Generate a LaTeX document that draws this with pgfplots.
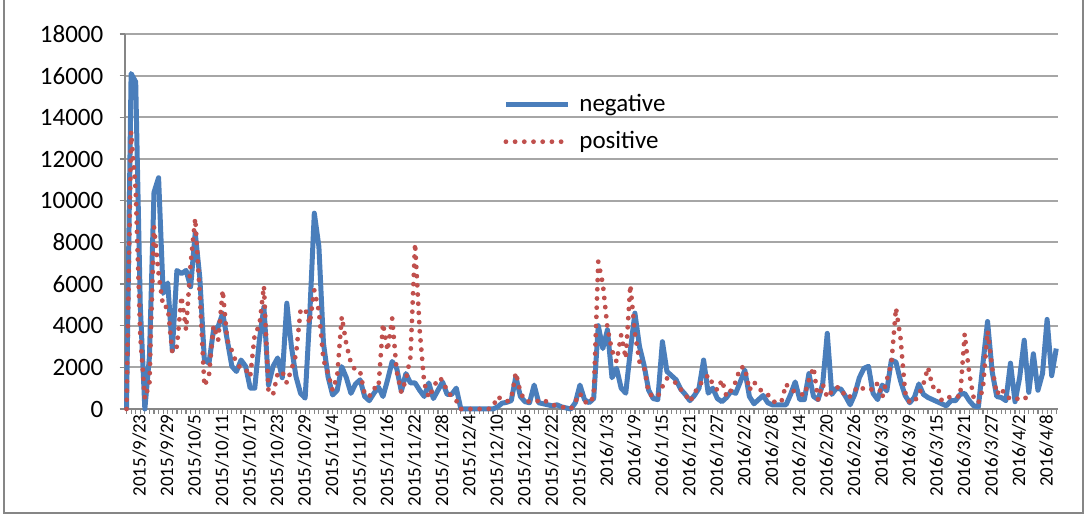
\documentclass[border=0pt]{standalone}
\usepackage{fontspec}
\setmainfont{Carlito}
\usepackage{pgfplots}
\pgfplotsset{compat=1.18}
\definecolor{negc}{RGB}{74,126,187}
\definecolor{posc}{RGB}{192,80,77}
\definecolor{gridc}{RGB}{166,166,166}
\definecolor{axc}{RGB}{134,134,134}
\begin{document}
\begin{tikzpicture}
\path[use as bounding box] (-62.35pt,-54pt) rectangle (482.15pt,204.5pt);
\draw[axc, line width=0.7pt] (-60.35pt,204.5pt) -- (-60.35pt,-52pt) -- (479.15pt,-52pt) -- (479.15pt,204.5pt);
\begin{axis}[
  at={(0,0)}, anchor=south west, scale only axis,
  width=466.7pt, height=187.5pt,
  xmin=-0.4, xmax=203.4, ymin=0, ymax=18000,
  clip=false,
  axis x line*=bottom, axis y line*=left,
  axis line style={axc, line width=1pt},
  ytick={0,2000,...,18000},
  scaled y ticks=false,
  xtick={0,6,...,198},
  xticklabels={2015/9/23,2015/9/29,2015/10/5,2015/10/11,2015/10/17,2015/10/23,2015/10/29,2015/11/4,2015/11/10,2015/11/16,2015/11/22,2015/11/28,2015/12/4,2015/12/10,2015/12/16,2015/12/22,2015/12/28,2016/1/3,2016/1/9,2016/1/15,2016/1/21,2016/1/27,2016/2/2,2016/2/8,2016/2/14,2016/2/20,2016/2/26,2016/3/3,2016/3/9,2016/3/15,2016/3/21,2016/3/27,2016/4/2,2016/4/8},
  minor xtick={0,1,...,203},
  tick align=outside,
  major tick length=2.5pt, minor tick length=2.5pt,
  tick style={axc, line width=0.6pt},
  ymajorgrids, grid style={gridc, line width=1pt},
  /pgf/number format/set thousands separator={},
  /pgf/number format/assume math mode=true,
  yticklabel style={font=\fontsize{12.5}{14}\selectfont, anchor=east, inner sep=0pt, xshift=-8pt,
    /pgf/number format/fixed, /pgf/number format/precision=0},
  xticklabel style={font=\fontsize{9.5}{11}\selectfont, rotate=90, anchor=east, inner sep=0pt, yshift=-6.5pt},
  legend style={draw=none, fill=none, at={(0.4053,0.851)}, anchor=north west,
    font=\fontsize{12.5}{14}\selectfont, row sep=4.5pt, column sep=2.5pt, inner sep=0pt},
  legend cell align=left,
  legend image code/.code={\draw[#1] (0pt,0pt) -- (31pt,0pt);},
]
\addplot[negc, line width=2.5pt, line join=round] table[row sep=\\] {
x y\\
0 0\\1 16100\\2 15700\\3 5000\\4 0\\5 2500\\6 10400\\7 11100\\8 5550\\9 6050\\
10 2800\\11 6650\\12 6500\\13 6650\\14 5870\\15 8450\\16 6300\\17 2350\\18 2200\\19 3800\\
20 3950\\21 4600\\22 3300\\23 2050\\24 1800\\25 2350\\26 2050\\27 1000\\28 1000\\29 3300\\
30 4900\\31 1150\\32 2050\\33 2450\\34 1500\\35 5080\\36 3000\\37 1550\\38 750\\39 520\\
40 4500\\41 9400\\42 7800\\43 3150\\44 1550\\45 670\\46 900\\47 2030\\48 1500\\49 750\\
50 1200\\51 1400\\52 600\\53 400\\54 750\\55 1050\\56 600\\57 1400\\58 2280\\59 1950\\
60 850\\61 1700\\62 1250\\63 1250\\64 900\\65 600\\66 1250\\67 500\\68 900\\69 1300\\
70 700\\71 700\\72 1000\\73 0\\74 0\\75 0\\76 0\\77 0\\78 0\\79 0\\
80 0\\81 100\\82 280\\83 320\\84 400\\85 1550\\86 600\\87 350\\88 300\\89 1150\\
90 300\\91 250\\92 200\\93 150\\94 200\\95 100\\96 50\\97 0\\98 300\\99 1150\\
100 450\\101 300\\102 500\\103 4000\\104 2900\\105 3800\\106 1500\\107 1950\\108 1000\\109 760\\
110 2800\\111 4600\\112 3000\\113 2100\\114 900\\115 500\\116 450\\117 3230\\118 1800\\119 1600\\
120 1400\\121 950\\122 700\\123 400\\124 650\\125 1000\\126 2350\\127 760\\128 1000\\129 500\\
130 350\\131 550\\132 850\\133 750\\134 1300\\135 1870\\136 600\\137 250\\138 450\\139 650\\
140 300\\141 200\\142 200\\143 200\\144 200\\145 700\\146 1300\\147 450\\148 450\\149 1700\\
150 600\\151 450\\152 1200\\153 3630\\154 700\\155 1000\\156 950\\157 600\\158 200\\159 700\\
160 1500\\161 1950\\162 2050\\163 750\\164 450\\165 1150\\166 870\\167 2350\\168 2250\\169 1350\\
170 650\\171 300\\172 550\\173 1200\\174 700\\175 550\\176 450\\177 350\\178 250\\179 150\\
180 400\\181 400\\182 700\\183 750\\184 400\\185 150\\186 100\\187 2200\\188 4200\\189 1800\\
190 600\\191 550\\192 400\\193 2200\\194 350\\195 1500\\196 3300\\197 800\\198 2650\\199 900\\
200 1700\\201 4300\\202 1600\\203 2900\\
};
\addlegendentry{negative}
\addplot[posc, line width=2.4pt, line cap=round, dash pattern=on 0pt off 4.6pt] table[row sep=\\] {
x y\\
0 0\\1 13300\\2 10500\\3 3500\\4 500\\5 1200\\6 8750\\7 6500\\8 4900\\9 4900\\
10 2700\\11 3000\\12 5400\\13 3800\\14 7000\\15 9150\\16 5500\\17 1100\\18 1600\\19 4000\\
20 3300\\21 5700\\22 3300\\23 2800\\24 2200\\25 1950\\26 1900\\27 1550\\28 3600\\29 4000\\
30 5900\\31 800\\32 700\\33 1700\\34 1800\\35 1250\\36 1900\\37 2600\\38 4750\\39 4800\\
40 4100\\41 5700\\42 4700\\43 2350\\44 1700\\45 900\\46 1600\\47 4430\\48 3100\\49 2200\\
50 1850\\51 1800\\52 700\\53 600\\54 1000\\55 1000\\56 4100\\57 2800\\58 4350\\59 1800\\
60 800\\61 1400\\62 2500\\63 7950\\64 3800\\65 1250\\66 550\\67 1000\\68 1480\\69 1400\\
70 850\\71 600\\72 400\\73 0\\74 0\\75 0\\76 0\\77 0\\78 0\\79 0\\
80 100\\81 600\\82 450\\83 350\\84 500\\85 1750\\86 800\\87 400\\88 350\\89 330\\
90 400\\91 460\\92 300\\93 200\\94 150\\95 100\\96 50\\97 0\\98 350\\99 750\\
100 350\\101 250\\102 600\\103 7070\\104 6000\\105 3900\\106 2800\\107 2270\\108 3550\\109 2430\\
110 5950\\111 3640\\112 2270\\113 2030\\114 750\\115 600\\116 600\\117 1070\\118 1470\\119 1350\\
120 1250\\121 950\\122 700\\123 350\\124 750\\125 1150\\126 1350\\127 1630\\128 1200\\129 900\\
130 1400\\131 600\\132 900\\133 1300\\134 2000\\135 2000\\136 900\\137 1300\\138 1000\\139 800\\
140 700\\141 400\\142 280\\143 350\\144 1200\\145 900\\146 850\\147 750\\148 650\\149 1400\\
150 2000\\151 450\\152 1200\\153 550\\154 850\\155 1050\\156 1000\\157 550\\158 600\\159 900\\
160 1100\\161 950\\162 1000\\163 900\\164 1250\\165 550\\166 1400\\167 2200\\168 4850\\169 3400\\
170 800\\171 300\\172 350\\173 700\\174 1200\\175 2000\\176 1050\\177 1100\\178 400\\179 500\\
180 600\\181 650\\182 570\\183 3600\\184 1700\\185 500\\186 300\\187 1000\\188 3750\\189 2000\\
190 700\\191 1000\\192 600\\193 500\\194 430\\195 550\\196 600\\197 370\\
};
\addlegendentry{positive}
\end{axis}
\end{tikzpicture}
\end{document}
